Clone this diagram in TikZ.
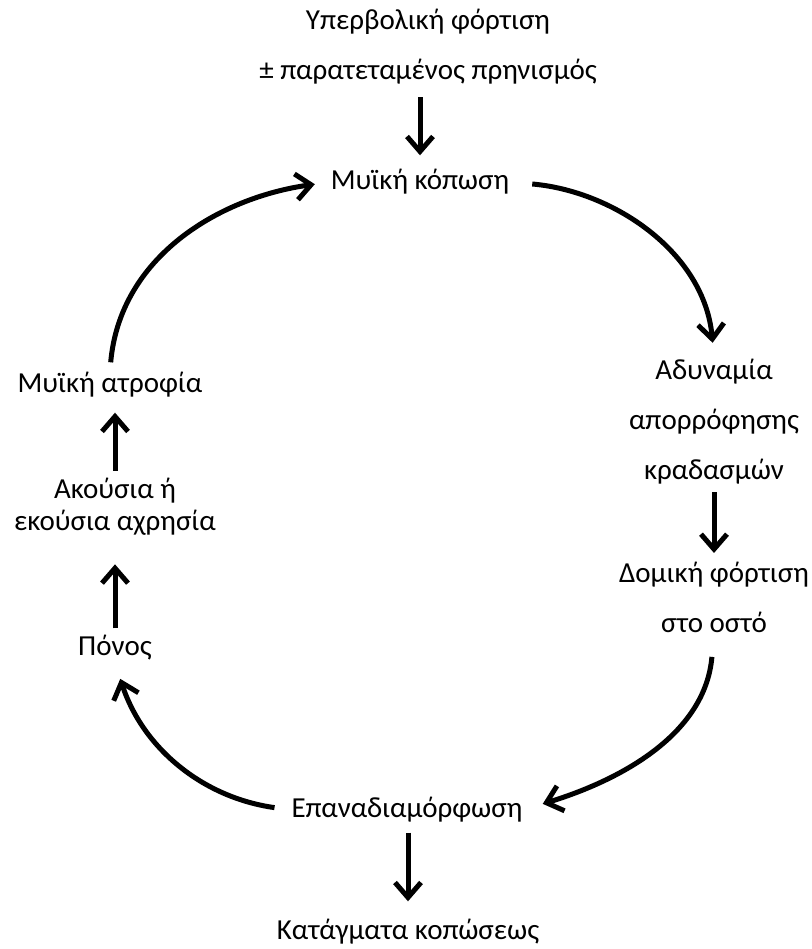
\documentclass[tikz,border=0pt]{standalone}
\usepackage{fontspec}
\setmainfont{Carlito}
\usetikzlibrary{arrows.meta}
\tikzset{
texte/.style={font=\fontsize{29}{50}\selectfont, inner sep=0pt, align=center},
ligne/.style={font=\fontsize{29}{50}\selectfont, inner sep=0pt, text height=22pt, text depth=7pt},
fleche/.style={line width=5pt, -{Straight Barb[length=15pt,width=26pt]}}
}
\begin{document}
\begin{tikzpicture}[x=1pt,y=1pt]
\useasboundingbox (0,0) rectangle (811,949);
%noeuds
\node[texte] (surcharge) at (428,902.5) {Υπερβολική φόρτιση\\± παρατεταμένος πρηνισμός};
\node[ligne] (fatigue) at (420,767) {Μυϊκή κόπωση};
\node[texte] (adynamia) at (714,527.5) {Αδυναμία\\απορρόφησης\\κραδασμών};
\node[texte] (domiki) at (714,351.5) {Δομική φόρτιση\\στο οστό};
\node[ligne] (remod) at (407,139) {Επαναδιαμόρφωση};
\node[ligne] (fractures) at (408,17) {Κατάγματα κοπώσεως};
\node[ligne] (ponos) at (115,301) {Πόνος};
\node[texte, font=\fontsize{29}{32}\selectfont] (disuse) at (115,442.5) {Ακούσια ή\\εκούσια αχρησία};
\node[ligne] (atrophy) at (110,564) {Μυϊκή ατροφία};
%fleches droites
\draw[fleche, shorten <=13pt, shorten >=12pt] (surcharge.south -| fatigue.north) -- (fatigue.north);
\draw[fleche, shorten <=8pt, shorten >=9pt] (adynamia.south -| domiki.north) -- (domiki.north);
\draw[fleche, shorten <=8pt, shorten >=16pt] (remod.south -| fractures.north) -- (fractures.north);
\draw[fleche, shorten <=5pt, shorten >=29pt] (ponos.north) -- (ponos.north |- disuse.south);
\draw[fleche, shorten <=7pt, shorten >=13pt] (disuse.north) -- (disuse.north |- atrophy.south);
%cycle
\draw[fleche, shorten <=23pt, shorten >=16pt] (fatigue.east) to[out=-5, in=95] (adynamia.north);
\draw[fleche, shorten <=24pt, shorten >=21pt] (domiki.south) to[out=-95, in=17] (remod.east);
\draw[fleche, shorten <=17pt, shorten >=17pt] (remod.west) to[out=172, in=-72] (ponos.south);
\draw[fleche, shorten <=8pt, shorten >=16pt] (atrophy.north) to[out=85, in=188] (fatigue.west);
%fin
\end{tikzpicture}
\end{document}
